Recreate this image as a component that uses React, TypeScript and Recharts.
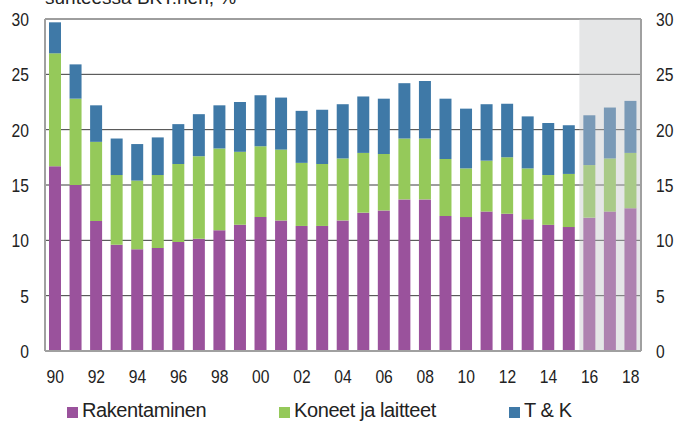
import React from 'react';
import { ComposedChart, Bar, Line, XAxis, YAxis, CartesianGrid, ReferenceArea, Cell } from 'recharts';

const years = ['90','91','92','93','94','95','96','97','98','99','00','01','02','03','04','05','06','07','08','09','10','11','12','13','14','15','16','17','18'];
const rakentaminen = [16.7,15.0,11.75,9.6,9.2,9.3,9.85,10.15,10.9,11.4,12.1,11.8,11.3,11.3,11.8,12.5,12.7,13.7,13.7,12.2,12.1,12.6,12.4,11.9,11.4,11.2,12.05,12.6,12.9];
const koneet = [10.2,7.8,7.15,6.3,6.2,6.6,7.05,7.45,7.4,6.6,6.4,6.4,5.7,5.6,5.6,5.4,5.1,5.5,5.5,5.15,4.4,4.6,5.1,4.6,4.5,4.8,4.75,4.8,5.0];
const tk = [2.8,3.1,3.3,3.3,3.3,3.4,3.6,3.8,3.9,4.5,4.6,4.7,4.7,4.9,4.9,5.1,5.0,5.0,5.2,5.45,5.4,5.1,4.85,4.7,4.7,4.4,4.5,4.6,4.7];
const forecastYears = ['16','17','18'];
const yTicks = [0,5,10,15,20,25,30];
const title = 'suhteessa BKT:hen, %';
const seriesNames = ['Rakentaminen','Koneet ja laitteet','T & K'];

const colors = { rak: '#9A529C', kon: '#95C95A', tk: '#3F79A7' };
const light = { rak: '#AE82B0', kon: '#A9CA88', tk: '#7A9AB7' };

const data = years.map((y, i) => ({
  year: y,
  rak: rakentaminen[i],
  kon: koneet[i],
  tk: tk[i],
  total: rakentaminen[i] + koneet[i] + tk[i],
  fc: forecastYears.includes(y),
}));

const FONT = '"Liberation Sans", Arial, sans-serif';

const makeTick = (anchor: 'start' | 'middle' | 'end', dy: string) => (props: any) => {
  const { x, y, payload } = props;
  const label = String(payload.value);
  return (
    <text
      x={x}
      y={y}
      dy={dy}
      textAnchor={anchor}
      fontFamily={FONT}
      fontSize={19}
      fill="#222"
      textLength={label.length * 8.7}
      lengthAdjust="spacingAndGlyphs"
    >
      {label}
    </text>
  );
};

const XTick = makeTick('middle', '0.71em');
const LeftTick = makeTick('end', '0.36em');
const RightTick = makeTick('start', '0.36em');

export default function App() {
  const legendItems = [
    { name: seriesNames[0], color: colors.rak, sq: 67 },
    { name: seriesNames[1], color: colors.kon, sq: 279 },
    { name: seriesNames[2], color: colors.tk, sq: 509 },
  ];
  return (
    <div style={{ position: 'absolute', left: 0, top: 0, width: 674, height: 421, overflow: 'hidden', background: '#fff', fontFamily: FONT }}>
      <div style={{ position: 'absolute', left: 45, top: -12, fontSize: 19, lineHeight: '19px', color: '#222', whiteSpace: 'nowrap' }}>{title}</div>
      <ComposedChart width={674} height={421} data={data} margin={{ top: 19, right: 0, left: 0, bottom: 40 }} style={{ position: 'absolute', left: 0, top: 0 }}>
        <ReferenceArea yAxisId="left" x1="16" x2="18" y1={0} y2={30} fill="#BFC1C4" fillOpacity={0.4} stroke="none" />
        <CartesianGrid vertical={false} stroke="#3c3c3c" strokeWidth={1} yAxisId="left" />
        <XAxis dataKey="year" interval={1} tickLine={false} tickSize={0} tickMargin={19} height={30} axisLine={{ stroke: '#A0A0A0', strokeWidth: 2 }} tick={XTick} />
        <YAxis yAxisId="left" orientation="left" width={45} domain={[0, 30]} ticks={yTicks} tickLine={false} tickSize={0} tickMargin={16} axisLine={{ stroke: '#A0A0A0', strokeWidth: 2 }} tick={LeftTick} />
        <YAxis yAxisId="right" orientation="right" width={33} domain={[0, 30]} ticks={yTicks} tickLine={false} tickSize={0} tickMargin={15} axisLine={{ stroke: '#A0A0A0', strokeWidth: 2 }} tick={RightTick} />
        <Bar yAxisId="left" dataKey="rak" name={seriesNames[0]} stackId="s" barSize={12} isAnimationActive={false}>
          {data.map((d, i) => <Cell key={i} fill={d.fc ? light.rak : colors.rak} />)}
        </Bar>
        <Bar yAxisId="left" dataKey="kon" name={seriesNames[1]} stackId="s" barSize={12} isAnimationActive={false}>
          {data.map((d, i) => <Cell key={i} fill={d.fc ? light.kon : colors.kon} />)}
        </Bar>
        <Bar yAxisId="left" dataKey="tk" name={seriesNames[2]} stackId="s" barSize={12} isAnimationActive={false}>
          {data.map((d, i) => <Cell key={i} fill={d.fc ? light.tk : colors.tk} />)}
        </Bar>
        <Line yAxisId="right" dataKey="total" stroke="none" dot={false} activeDot={false} legendType="none" isAnimationActive={false} />
      </ComposedChart>
      {legendItems.map((it) => (
        <div key={it.name} style={{ position: 'absolute', left: it.sq, top: 400, height: 20, display: 'flex', alignItems: 'center', whiteSpace: 'nowrap' }}>
          <span style={{ display: 'inline-block', width: 11, height: 11, background: it.color, marginRight: 4, marginTop: 4 }} />
          <span style={{ fontSize: 20, lineHeight: '20px', letterSpacing: -0.4, color: '#222' }}>{it.name}</span>
        </div>
      ))}
    </div>
  );
}
